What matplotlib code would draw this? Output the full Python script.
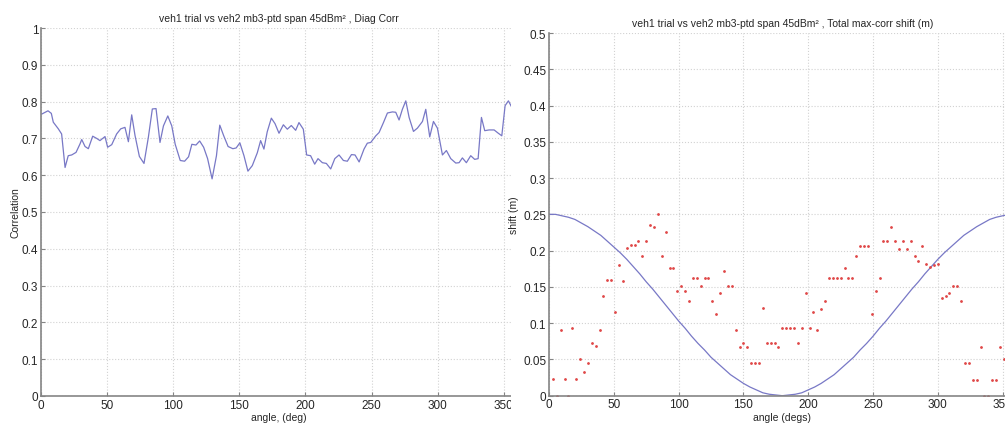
import numpy as np
import matplotlib
matplotlib.use("Agg")
import matplotlib.pyplot as plt
from matplotlib.patches import Rectangle
from matplotlib.ticker import FuncFormatter

plt.rcParams['font.family'] = ['Liberation Sans', 'DejaVu Sans']

# --- left panel: diagonal correlation vs angle ---
corr_angle = [0.5, 5.3, 7.8, 9.3, 13.1, 15.6, 18.2, 20.6, 23.2, 26.5, 29.5, 30.8, 33.3, 35.8,
              39.1, 42.1, 44.6, 48.4, 50.4, 53.5, 57.2, 60.3, 63.5, 66.1, 68.6, 71.1, 74.4,
              77.9, 81.2, 84.2, 87.0, 90.0, 92.6, 95.9, 98.9, 101.5, 105.3, 108.6, 111.6,
              114.1, 117.2, 120.0, 123.0, 126.0, 129.4, 132.7, 135.2, 138.2, 141.5, 145.1,
              147.6, 150.4, 153.5, 156.5, 159.8, 163.6, 166.1, 168.6, 171.1, 174.2, 177.0,
              180.0, 183.3, 186.3, 189.3, 192.6, 195.1, 198.4, 200.9, 203.9, 207.0, 209.5,
              212.8, 215.8, 219.1, 222.2, 225.4, 228.7, 231.7, 234.8, 237.5, 240.6, 244.3,
              246.8, 249.4, 253.2, 255.7, 259.0, 262.0, 265.8, 268.3, 270.8, 273.3, 275.9,
              278.4, 281.7, 284.7, 288.5, 291.0, 294.0, 296.8, 299.8, 303.6, 306.6, 309.9,
              313.7, 316.2, 318.7, 321.7, 325.0, 328.0, 330.6, 333.1, 335.6, 338.9, 342.7,
              345.5, 348.5, 351.0, 353.5, 356.0, 358.5]
corr_value = [0.766, 0.775, 0.768, 0.744, 0.726, 0.712, 0.621, 0.653, 0.655, 0.662, 0.685, 0.697,
              0.678, 0.672, 0.706, 0.700, 0.694, 0.705, 0.676, 0.683, 0.712, 0.726, 0.730, 0.691,
              0.764, 0.708, 0.651, 0.632, 0.703, 0.780, 0.781, 0.689, 0.734, 0.761, 0.734, 0.684,
              0.640, 0.638, 0.650, 0.684, 0.682, 0.693, 0.676, 0.645, 0.590, 0.653, 0.736, 0.707,
              0.678, 0.672, 0.674, 0.688, 0.653, 0.611, 0.626, 0.661, 0.694, 0.671, 0.718, 0.755,
              0.740, 0.714, 0.737, 0.725, 0.735, 0.722, 0.743, 0.725, 0.655, 0.653, 0.630, 0.645,
              0.634, 0.632, 0.617, 0.645, 0.655, 0.640, 0.638, 0.656, 0.655, 0.636, 0.671, 0.687,
              0.689, 0.707, 0.716, 0.743, 0.769, 0.772, 0.771, 0.750, 0.779, 0.802, 0.757, 0.719,
              0.728, 0.746, 0.779, 0.704, 0.746, 0.728, 0.655, 0.667, 0.645, 0.633, 0.634, 0.647,
              0.634, 0.653, 0.643, 0.645, 0.757, 0.721, 0.723, 0.723, 0.715, 0.707, 0.789, 0.802,
              0.785, 0.790]

# --- right panel: max-corr shift samples (every 3 deg) ---
shift_angle = np.arange(3, 357, 3)
shift_value = [0.023, 0.000, 0.090, 0.023, 0.000, 0.093, 0.023, 0.051, 0.032, 0.045,
               0.072, 0.068, 0.090, 0.137, 0.160, 0.160, 0.115, 0.180, 0.158, 0.204,
               0.208, 0.208, 0.213, 0.192, 0.213, 0.235, 0.232, 0.251, 0.192, 0.225,
               0.176, 0.176, 0.144, 0.151, 0.144, 0.131, 0.162, 0.162, 0.151, 0.162,
               0.162, 0.131, 0.113, 0.142, 0.172, 0.151, 0.151, 0.090, 0.067, 0.072,
               0.067, 0.045, 0.045, 0.045, 0.121, 0.072, 0.072, 0.072, 0.067, 0.093,
               0.093, 0.093, 0.093, 0.072, 0.093, 0.142, 0.093, 0.115, 0.090, 0.120,
               0.131, 0.162, 0.162, 0.162, 0.162, 0.176, 0.162, 0.162, 0.193, 0.207,
               0.207, 0.207, 0.112, 0.144, 0.162, 0.213, 0.213, 0.232, 0.213, 0.202,
               0.213, 0.202, 0.213, 0.192, 0.186, 0.207, 0.181, 0.178, 0.180, 0.181,
               0.135, 0.137, 0.142, 0.151, 0.151, 0.131, 0.045, 0.045, 0.022, 0.022,
               0.067, 0.000, 0.000, 0.022, 0.022, 0.067, 0.050, 0.032]

# reference curve read every 5 deg
ref_angle = np.arange(0, 365, 5)
ref_half = [0.250, 0.250, 0.248, 0.246, 0.243, 0.238, 0.233, 0.227, 0.221, 0.213,
            0.205, 0.197, 0.188, 0.178, 0.168, 0.157, 0.147, 0.136, 0.125, 0.114,
            0.103, 0.093, 0.082, 0.072, 0.063, 0.053, 0.045, 0.037, 0.029, 0.023,
            0.017, 0.012, 0.008, 0.004, 0.002, 0.001, 0.000]
ref_value = ref_half + ref_half[-2::-1]

line_col = '#7878c6'
dot_col = '#e04848'
txt_col = '#262626'
grid_col = '#d2d2d2'

fig = plt.figure(figsize=(10.05, 4.27), dpi=100)
ax1 = fig.add_axes([41 / 1005, 30 / 427, 476 / 1005, 368 / 427], zorder=0)
ax2 = fig.add_axes([549 / 1005, 30.3 / 427, 466.6 / 1005, 362.7 / 427], zorder=2)

# white sheet of the second figure covering the end of the first
cover = Rectangle((511 / 1005, 0), 1, 1, transform=fig.transFigure,
                  facecolor='white', edgecolor='none', zorder=1)
fig.add_artist(cover)

fmt = FuncFormatter(lambda v, p: '%g' % round(v, 3))

ax1.plot(corr_angle, corr_value, color=line_col, lw=0.9)
ax1.set_xlim(0, 360)
ax1.set_ylim(0, 1)
ax1.set_xticks(np.arange(0, 351, 50))
ax1.set_yticks(np.arange(0, 1.01, 0.1))
ax1.set_title('veh1 trial vs veh2 mb3-ptd span 45dBm² , Diag Corr', fontsize=7.5, color=txt_col, pad=5)
ax1.set_xlabel('angle, (deg)', fontsize=7.5, color=txt_col, labelpad=1)
ax1.set_ylabel('Correlation', fontsize=7.5, color=txt_col, labelpad=1)

ax2.plot(ref_angle, ref_value, color=line_col, lw=0.9)
ax2.plot(shift_angle, shift_value, '.', color=dot_col, ms=2.0)
ax2.set_xlim(0, 360)
ax2.set_ylim(0, 0.5)
ax2.set_xticks(np.arange(0, 351, 50))
ax2.set_yticks(np.arange(0, 0.501, 0.05))
ax2.set_title('veh1 trial vs veh2 mb3-ptd span 45dBm² , Total max-corr shift (m)', fontsize=7.5, color=txt_col, pad=5)
ax2.set_xlabel('angle (degs)', fontsize=7.5, color=txt_col, labelpad=1)
ax2.set_ylabel('shift (m)', fontsize=7.5, color=txt_col, labelpad=3)

for ax in (ax1, ax2):
    ax.yaxis.set_major_formatter(fmt)
    ax.grid(True, color=grid_col, linestyle=':', lw=0.8)
    for s in ('top', 'right'):
        ax.spines[s].set_visible(False)
    for s in ('left', 'bottom'):
        ax.spines[s].set_color('#858585')
        ax.spines[s].set_linewidth(1.2)
    ax.tick_params(direction='in', length=3, colors='#858585', labelcolor=txt_col,
                   labelsize=8.5, pad=2)
    ax.set_axisbelow(True)

fig.savefig('out.png', dpi=100, facecolor='white')
